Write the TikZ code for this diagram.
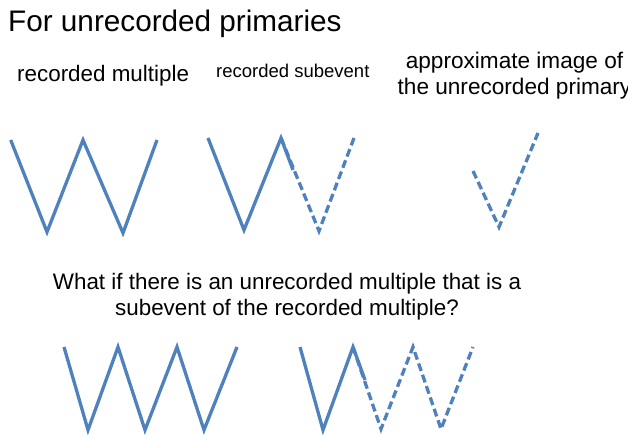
\documentclass[tikz,border=0pt]{standalone}
\usepackage{fontspec}
\setmainfont{Liberation Sans}
\usetikzlibrary{positioning}
\definecolor{ZigBlue}{RGB}{79,129,189}

\begin{document}
\begin{tikzpicture}[
          x=1pt,y=-1pt,
          lbl/.style={inner sep=0pt,text=black,font=\fontsize{22.4}{26}\selectfont},
          zig/.style={ZigBlue,line width=3.3pt},
          zigdash/.style={zig,dash pattern=on 8pt off 4pt}
        ]
          \useasboundingbox (0,0) rectangle (628,435);

          \node(title)[lbl,anchor=base west,font=\fontsize{29.7}{34}\selectfont] at (8,32) {For unrecorded primaries};
          \node(multi)[lbl,anchor=base west] at (17,82) {recorded multiple};
          \node(subev)[lbl,anchor=base west,font=\fontsize{18.5}{21}\selectfont] at (216,78) {recorded subevent};
          \node(approx)[lbl,anchor=north,align=center,font=\fontsize{22.6}{26}\selectfont] at (514.5,51.5) {approximate image of\\the unrecorded primary};
          \node(question)[lbl,anchor=north,align=center] at (287,272.6) {What if there is an unrecorded multiple that is a\\subevent of the recorded multiple?};

          % upper row
          \draw[zig] (10.7,140) -- (47,232) -- (83,140) -- (123,233) -- (157,140);
          \draw[zig] (208,138) -- (244,230) -- (281,138) -- (293,170);
          \draw[zigdash] (281,138) -- (319,231) -- (354,138);
          \draw[zigdash] (473,171) -- (499,227) -- (538,133);

          % lower row
          \draw[zig] (64,347) -- (88,430) -- (118,347) -- (145,430) -- (177,347) -- (204,430) -- (237,347);
          \draw[zig] (300,347) -- (323,430) -- (353,347) -- (365,380);
          \draw[zigdash] (353,347) -- (381,429) -- (413,347) -- (441,429) -- (473,347);
        \end{tikzpicture}
\end{document}
